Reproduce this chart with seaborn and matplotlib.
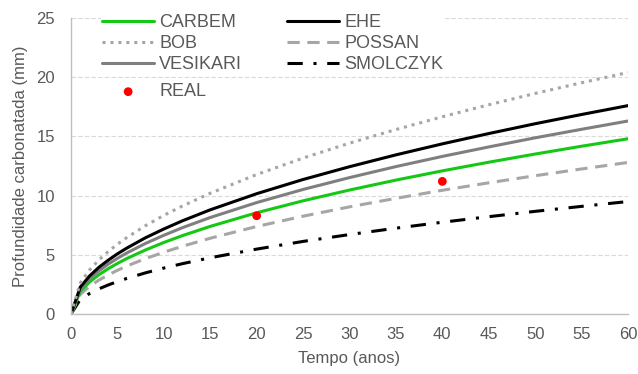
import matplotlib
matplotlib.use("Agg")
import matplotlib.pyplot as plt
import seaborn as sns
import pandas as pd

# Carbonation depth (mm) by model over time (years)
tempo = [0, 1, 2, 3, 4, 5, 6, 8, 10, 12, 15, 20, 25, 30, 35, 40, 45, 50, 55, 60]
carbem = [0, 1.91, 2.70, 3.31, 3.82, 4.27, 4.68, 5.40, 6.04, 6.62, 7.40, 8.55, 9.56, 10.47, 11.31, 12.09, 12.82, 13.51, 14.17, 14.80]
bob = [0, 2.63, 3.72, 4.56, 5.27, 5.89, 6.45, 7.45, 8.33, 9.12, 10.20, 11.78, 13.17, 14.43, 15.58, 16.66, 17.67, 18.63, 19.53, 20.40]
vesikari = [0, 2.10, 2.98, 3.64, 4.21, 4.70, 5.15, 5.95, 6.65, 7.29, 8.15, 9.41, 10.52, 11.52, 12.45, 13.31, 14.11, 14.88, 15.60, 16.30]
ehe = [0, 2.27, 3.21, 3.94, 4.54, 5.08, 5.56, 6.43, 7.18, 7.87, 8.80, 10.16, 11.36, 12.44, 13.44, 14.37, 15.24, 16.07, 16.85, 17.60]
possan = [0, 1.65, 2.34, 2.86, 3.30, 3.69, 4.05, 4.67, 5.22, 5.72, 6.40, 7.39, 8.26, 9.05, 9.77, 10.45, 11.08, 11.68, 12.25, 12.80]
smolczyk = [0, 1.23, 1.73, 2.12, 2.45, 2.74, 3.00, 3.47, 3.88, 4.25, 4.75, 5.48, 6.13, 6.71, 7.25, 7.75, 8.22, 8.67, 9.09, 9.50]

# Measured values
real_tempo = [20, 40]
real_prof = [8.3, 11.2]

sns.set_theme(style="white")
plt.rcParams["font.family"] = ["Liberation Sans", "DejaVu Sans"]

W, H = 638, 374
fig = plt.figure(figsize=(W / 100, H / 100), dpi=100)
ax = fig.add_axes([71 / W, 1 - 314 / H, (628 - 71) / W, (314 - 18) / H])

lw = 2.2
styles = {
    "CARBEM": dict(color="#14c814", linestyle="-"),
    "BOB": dict(color="#a6a6a6", linestyle=(0, (1, 1.6))),
    "VESIKARI": dict(color="#7f7f7f", linestyle="-"),
    "EHE": dict(color="#000000", linestyle="-"),
    "POSSAN": dict(color="#a6a6a6", linestyle=(0, (4, 2.5))),
    "SMOLCZYK": dict(color="#000000", linestyle=(0, (5, 3.5, 1, 3.5))),
}
series = {"CARBEM": carbem, "BOB": bob, "VESIKARI": vesikari,
          "EHE": ehe, "POSSAN": possan, "SMOLCZYK": smolczyk}

for name in ["SMOLCZYK", "POSSAN", "CARBEM", "VESIKARI", "EHE", "BOB"]:
    df = pd.DataFrame({"t": tempo, "d": series[name]})
    sns.lineplot(data=df, x="t", y="d", ax=ax, linewidth=lw,
                 label=name, **styles[name])

df_real = pd.DataFrame({"t": real_tempo, "d": real_prof})
sns.scatterplot(data=df_real, x="t", y="d", ax=ax, color="#ff0000",
                s=40, marker="o", edgecolor="none", label="REAL", zorder=5)

ax.set_xlim(0, 60)
ax.set_ylim(0, 25)
ax.set_xticks(range(0, 61, 5))
ax.set_yticks(range(0, 26, 5))
ax.grid(axis="y", color="#d9d9d9", linestyle=(0, (4, 2)), linewidth=0.8)
ax.set_axisbelow(True)
for s in ["top", "right"]:
    ax.spines[s].set_visible(False)
for s in ["left", "bottom"]:
    ax.spines[s].set_color("#bfbfbf")
    ax.spines[s].set_linewidth(1.0)
ax.tick_params(axis="both", length=0, labelsize=12, colors="#595959")
ax.tick_params(axis="x", pad=9.5)
ax.tick_params(axis="y", pad=11.5)
ax.set_xlabel("Tempo (anos)", fontsize=12, color="#595959", labelpad=6)
ax.set_ylabel("Profundidade carbonatada (mm)", fontsize=12, color="#595959", labelpad=6)

h, l = ax.get_legend_handles_labels()
hd = dict(zip(l, h))
leg_kw = dict(fontsize=13, handlelength=2.85, handletextpad=0.3,
              labelspacing=0.22, borderaxespad=0,
              frameon=True, framealpha=1, loc="upper left",
              bbox_transform=fig.transFigure)

order = ["CARBEM", "BOB", "VESIKARI", "EHE", "POSSAN", "SMOLCZYK"]
leg = ax.legend([hd[k] for k in order], order, ncol=2, columnspacing=2.5,
                borderpad=0.1, bbox_to_anchor=(100.6 / W, 1 - 12.6 / H),
                **leg_kw)
leg_real = ax.legend([hd["REAL"]], ["REAL"], borderpad=0.3,
                     bbox_to_anchor=(97 / W, 1 - 78 / H), **leg_kw)
ax.add_artist(leg)
for lg in (leg, leg_real):
    lg.get_frame().set_edgecolor("none")
    lg.get_frame().set_facecolor("white")
    for t in lg.get_texts():
        t.set_color("#595959")

fig.savefig("out.png", dpi=100)
